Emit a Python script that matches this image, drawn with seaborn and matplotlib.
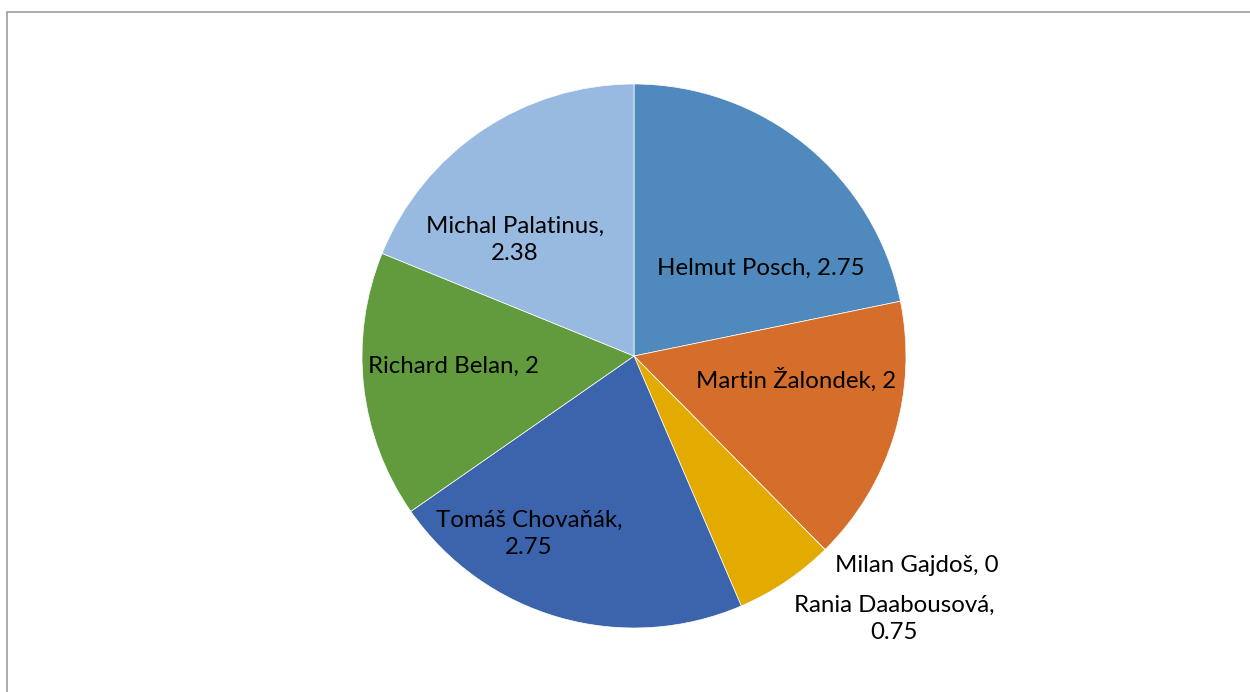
import matplotlib.pyplot as plt
import matplotlib.patches as mpatches
import seaborn as sns

names = ['Helmut Posch', 'Martin Žalondek', 'Milan Gajdoš', 'Rania Daabousová',
         'Tomáš Chovaňák', 'Richard Belan', 'Michal Palatinus']
values = [2.75, 2, 0, 0.75, 2.75, 2, 2.38]
value_labels = ['2.75', '2', '0', '0.75', '2.75', '2', '2.38']
colors = ['#4F89BD', '#D46E2A', '#A5A5A5', '#E3AA00', '#3C64AC', '#629B3D', '#98B9E0']

# label centres in pixels (from top-left), and whether the value goes on a new line
label_pos = [(761, 268), (796, 380), (917, 566), (894, 619), (529, 534), (453, 366), (515, 240)]
wrap = [False, False, False, True, True, False, True]

W, H = 1250, 692

sns.set_theme(style='white')
plt.rcParams['font.family'] = ['Lato', 'DejaVu Sans']

fig = plt.figure(figsize=(W / 100, H / 100), dpi=100)
ax = fig.add_axes([0, 0, 1, 1])

ax.pie(values, colors=colors, startangle=90, counterclock=False,
       center=(634, H - 356), radius=272,
       wedgeprops=dict(linewidth=0.5, edgecolor='white'))

for name, val, (x, y), w in zip(names, value_labels, label_pos, wrap):
    txt = f'{name},\n{val}' if w else f'{name}, {val}'
    ax.text(x, H - y, txt, ha='center', va='center', fontsize=17.3,
            color='black', linespacing=1.4)

ax.set_xlim(0, W)
ax.set_ylim(0, H)
ax.set_aspect('equal')
ax.axis('off')

# chart area frame
frame = mpatches.Rectangle((6.5, -20), W + 40, H - 11.5 + 20, fill=False,
                           edgecolor='#A6A6A6', linewidth=1.3)
ax.add_patch(frame)

fig.savefig('out.png', dpi=100)
